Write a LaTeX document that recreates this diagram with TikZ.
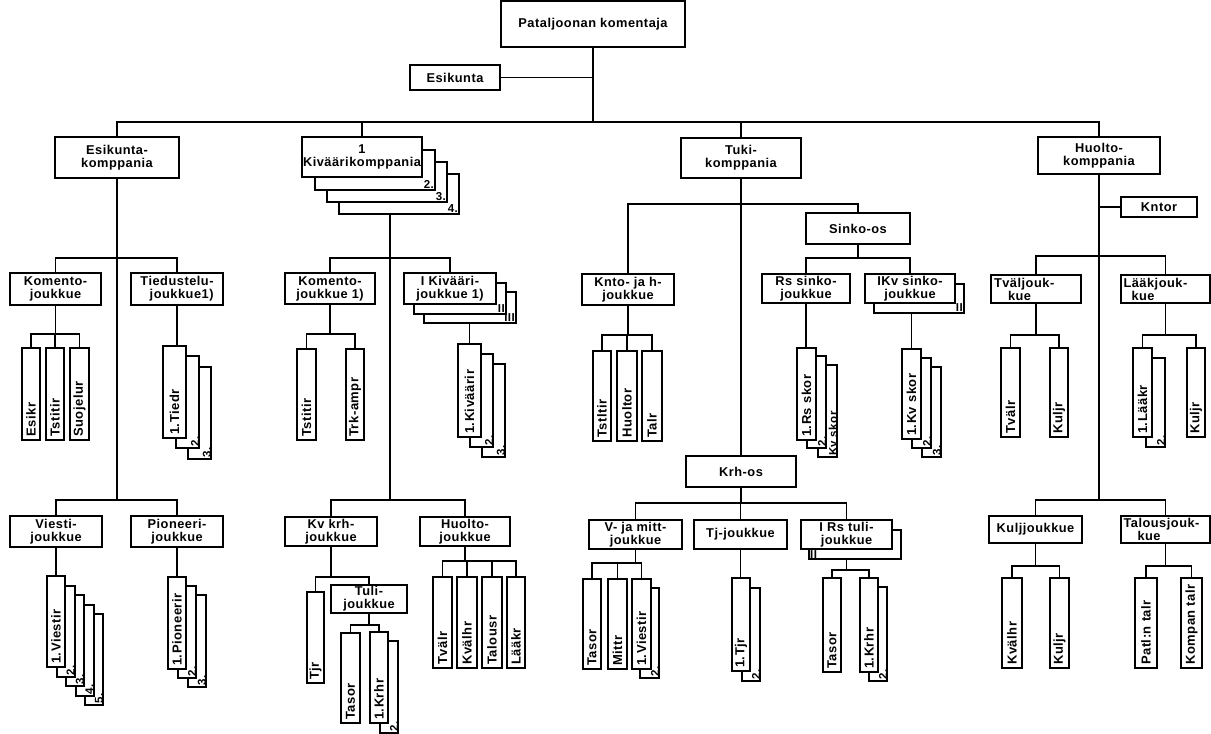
\documentclass[tikz,border=0pt]{standalone}
\usepackage{fontspec}
\setmainfont{Liberation Sans}[LetterSpace=4]
\tikzset{
 box/.style={draw, line width=2pt, fill=white, inner sep=1pt, align=center, font=\bfseries\fontsize{12.8}{13}\selectfont},
 vrect/.style={draw, line width=2pt, fill=white, inner sep=0pt},
 vtext/.style={rotate=90, anchor=west, inner sep=0pt, font=\bfseries\fontsize{13}{13}\selectfont},
 ctext/.style={rotate=90, anchor=west, inner sep=0pt, font=\bfseries\fontsize{11.5}{12}\selectfont},
 htext/.style={anchor=south east, inner sep=0pt, font=\bfseries\fontsize{11.5}{12}\selectfont},
 conn/.style={line width=1.2pt},
}
\newcommand\BX[7][]{\node[box,#1,minimum width={#5-#3},minimum height={#6-#4}] (#2) at ({(#3+#5)/2},{(#4+#6)/2}) {#7};}
\newcommand\VB[6]{\node[vrect,minimum width={#4-#2},minimum height={#5-#3}] (#1) at ({(#2+#4)/2},{(#3+#5)/2}) {};
\node[vtext] (#1t) at ([yshift=4pt]#1.south) {#6};}
\newcommand\VC[6]{\node[vrect,minimum width={#4-#2},minimum height={#5-#3}] (#1) at ({(#2+#4)/2},{(#3+#5)/2}) {};
\node[ctext] (#1t) at ([xshift=-5pt,yshift=2pt]#1.south east) {#6};}
\newcommand\HC[6]{\node[vrect,minimum width={#4-#2},minimum height={#5-#3}] (#1) at ({(#2+#4)/2},{(#3+#5)/2}) {};
\node[htext] (#1t) at ([xshift=-2pt,yshift=2pt]#1.south east) {#6};}
\newcommand\Tree[3]{\draw[conn] (#1.south) -- (#1.south |- 0,#2);
\foreach \kid in {#3}{\draw[conn] (\kid.north) |- (#1.south |- 0,#2);}}
\begin{document}
\begin{tikzpicture}[x=1pt,y=-1pt]
\fill[white] (0,0) rectangle (1211,734);
\useasboundingbox (0,0) rectangle (1211,734);
% top
\BX{pk}{501}{1}{685}{47}{Pataljoonan komentaja}
\BX{esk}{410}{65}{500}{90}{Esikunta}
\BX{ekp}{55}{137}{179}{178}{Esikunta-\\komppania}
\HC{kvc4}{339}{174}{459}{214}{4.}
\HC{kvc3}{327}{162}{447}{202}{3.}
\HC{kvc2}{315}{150}{435}{190}{2.}
\BX[inner sep=0pt]{kv1}{302}{137}{422}{177}{1\\Kiväärikomppania}
\BX{tuki}{681}{138}{801}{178}{Tuki-\\komppania}
\BX{hkp}{1038}{137}{1160}{174}{Huolto-\\komppania}
\BX{kntor}{1121}{197}{1197}{217}{Kntor}
% Esikuntakomppania
\BX{komj}{10}{273}{101}{305}{Komento-\\joukkue}
\BX[align=right]{tied}{131}{273}{223}{305}{Tiedustelu-\\joukkue1)}
\VB{esikr}{22}{348}{40}{440}{Esikr}
\VB{tst1}{46}{348}{64}{440}{Tstitir}
\VB{suoj}{70}{348}{89}{440}{Suojelur}
\VC{tdc3}{188}{367}{211}{459}{3.}
\VC{tdc2}{176}{356}{199}{448}{2.}
\VB{td1}{163}{346}{186}{438}{1.Tiedr}
\BX{vies}{10}{516}{102}{547}{Viesti-\\joukkue}
\BX{pion}{131}{516}{223}{547}{Pioneeri-\\joukkue}
\VC{vic5}{85}{614}{103}{705}{5.}
\VC{vic4}{75.5}{604.5}{93.5}{695.5}{4.}
\VC{vic3}{66}{595}{84}{686}{3.}
\VC{vic2}{56.5}{585.5}{74.5}{676.5}{2.}
\VB{vi1}{47}{576}{65}{667}{1.Viestir}
\VC{pic3}{188}{595}{206}{687}{3.}
\VC{pic2}{178}{586}{196}{678}{2.}
\VB{pi1}{168}{577}{186}{669}{1.Pioneerir}
% Kivaarikomppania
\BX{komj1}{285}{273}{375}{304}{Komento-\\joukkue 1)}
\HC{kjc3}{424}{292}{516}{323}{III}
\HC{kjc2}{414}{283}{506}{314}{II}
\BX{kivj}{404}{273}{496}{304}{I Kivääri-\\joukkue 1)}
\VB{tst2}{297}{349}{316}{440}{Tstitir}
\VB{trk}{346}{349}{364}{440}{Trk-ampr}
\VC{kic3}{482}{364}{505}{457}{3.}
\VC{kic2}{470}{354}{493}{447}{2.}
\VB{ki1}{458}{344}{481}{437}{1.Kiväärir}
\BX{kvkrh}{285}{517}{377}{546}{Kv krh-\\joukkue}
\BX{hj}{420}{517}{510}{546}{Huolto-\\joukkue}
\VB{tjr}{307}{592}{324}{683}{Tjr}
\BX{tulij}{331}{585}{407}{613}{Tuli-\\joukkue}
\VB{tas1}{341}{633}{360}{723}{Tasor}
\VC{krc2}{380}{641}{398}{733}{2.}
\VB{kr1}{370}{632}{388}{723}{1.Krhr}
\VB{tval1}{433}{577}{452}{668}{Tvälr}
\VB{kval1}{457}{577}{477}{668}{Kvälhr}
\VB{talo}{482}{577}{502}{668}{Talousr}
\VB{laak}{507}{577}{525}{668}{Lääkr}
% Tukikomppania
\BX{kntoj}{582}{274}{674}{305}{Knto- ja h-\\joukkue}
\BX{sinko}{806}{213}{910}{244}{Sinko-os}
\BX{rss}{762}{274}{850}{303}{Rs sinko-\\joukkue}
\HC{ikc2}{874}{284}{964}{313}{II}
\BX{ikvs}{865}{274}{955}{303}{IKv sinko-\\joukkue}
\VB{tst3}{593}{351}{611}{441}{Tstltir}
\VB{huol}{617}{351}{637}{441}{Huoltor}
\VB{talr}{642}{351}{662}{441}{Talr}
\VC{rsc3}{818}{365}{837}{457}{Kv skor}
\VC{rsc2}{807}{356}{826}{448}{2.}
\VB{rs1}{797}{348}{816}{440}{1.Rs skor}
\VC{kvsc3}{922}{367}{941}{457}{3.}
\VC{kvsc2}{912}{358}{931}{448}{2.}
\VB{kvs1}{902}{349}{921}{439}{1.Kv skor}
\BX{krhos}{686}{456}{796}{487}{Krh-os}
\BX{vjm}{589}{520}{682}{549}{V- ja mitt-\\joukkue}
\BX{tjj}{694}{520}{787}{549}{Tj-joukkue}
\node[vrect,minimum width=92,minimum height=29] (irc2) at (855,544.5) {};
\node[htext,anchor=south west] (irc2t) at ([xshift=2pt,yshift=1pt]irc2.south west) {II};
\BX{irs}{801}{520}{892}{549}{I Rs tuli-\\joukkue}
\VB{tas2}{583}{579}{601}{669}{Tasor}
\VB{mitt}{608}{579}{627}{669}{Mittr}
\VC{vmc2}{640}{588}{659}{678}{2.}
\VB{vm1}{632}{579}{651}{669}{1.Viestir}
\VC{tjc2}{742}{588}{760}{681}{2.}
\VB{tj1}{732}{578}{750}{671}{1.Tjr}
\VB{tas3}{823}{578}{841}{672}{Tasor}
\VC{krc3}{869}{587}{887}{681}{2.}
\VB{kr2}{860}{578}{878}{672}{1.Krhr}
% Huoltokomppania
\BX[text width=84pt,align=left]{tvj}{991}{275}{1081}{303}{Tväljouk-\\\hspace*{14pt}kue}
\BX[text width=84pt,align=left]{laj}{1121}{275}{1210}{303}{Lääkjouk-\\\hspace*{8pt}kue}
\VB{tval2}{1001}{348}{1020}{437}{Tvälr}
\VB{kul1}{1050}{348}{1068}{437}{Kuljr}
\VC{lac2}{1146}{358}{1165}{447}{2.}
\VB{la1}{1133}{348}{1152}{437}{1.Lääkr}
\VB{kul2}{1187}{348}{1205}{437}{Kuljr}
\BX{kuljj}{989}{516}{1082}{543}{Kuljjoukkue}
\BX[text width=84pt,align=left]{talj}{1121}{516}{1210}{543}{Talousjouk-\\\hspace*{14pt}kue}
\VB{kval2}{1002}{578}{1022}{668}{Kvälhr}
\VB{kul3}{1050}{578}{1069}{668}{Kuljr}
\VB{patl}{1135}{578}{1157}{668}{Patl:n talr}
\VB{komp}{1181}{578}{1202}{668}{Kompan talr}
% connectors top
\coordinate (bus0) at (593,122);
\draw[conn] (pk.south) -- (bus0);
\foreach \n in {ekp,kv1,tuki,hkp} {\draw[conn] (\n.north) |- (bus0);}
\draw[conn] (esk.east) -- (esk.east -| pk.south);
% Esikunta
\draw[conn] (ekp.south) -- (ekp.south |- 0,500);
\draw[conn] (komj.north) |- (ekp.south |- 0,258);
\draw[conn] (tied.north) |- (ekp.south |- 0,258);
\draw[conn] (vies.north) |- (ekp.south |- 0,500);
\draw[conn] (pion.north) |- (ekp.south |- 0,500);
\Tree{komj}{334}{esikr,tst1,suoj}
\draw[conn] (tied.south) -- (tied.south |- td1.north);
\draw[conn] (vies.south) -- (vies.south |- vi1.north);
\draw[conn] (pion.south) -- (pion.south |- pi1.north);
% Kivaari
\coordinate (kvj1) at (390,258);
\coordinate (kvj2) at (390,500);
\draw[conn] (kvc4.south -| kvj1) -- (kvj2);
\draw[conn] (komj1.north) |- (kvj1);
\draw[conn] (kivj.north) |- (kvj1);
\draw[conn] (kvkrh.north) |- (kvj2);
\draw[conn] (hj.north) |- (kvj2);
\Tree{komj1}{334}{tst2,trk}
\draw[conn] (kjc3.south -| ki1.north) -- (ki1.north);
\Tree{kvkrh}{577}{tjr,tulij}
\Tree{tulij}{625}{tas1,kr1}
\Tree{hj}{561}{tval1,kval1,talo,laak}
% Tuki
\draw[conn] (tuki.south) -- (krhos.north);
\draw[conn] (kntoj.north) |- (tuki.south |- 0,204);
\draw[conn] (sinko.north) |- (tuki.south |- 0,204);
\Tree{kntoj}{335}{tst3,huol,talr}
\Tree{sinko}{258}{rss,ikvs}
\draw[conn] (rss.south) -- (rss.south |- rs1.north);
\draw[conn] (ikc2.south -| kvs1.north) -- (kvs1.north);
\Tree{krhos}{503}{vjm,tjj,irs}
\Tree{vjm}{563}{tas2,mitt,vm1}
\draw[conn] (tjj.south) -- (tjj.south |- tj1.north);
\draw[conn] (irc2.south -| irs.south) -- (irs.south |- 0,570);
\draw[conn] (tas3.north) |- (irs.south |- 0,570);
\draw[conn] (kr2.north) |- (irs.south |- 0,570);
% Huolto
\draw[conn] (hkp.south) -- (hkp.south |- 0,500);
\draw[conn] (kntor.west) -- (kntor.west -| hkp.south);
\draw[conn] (tvj.north) |- (hkp.south |- 0,256);
\draw[conn] (laj.north) |- (hkp.south |- 0,256);
\draw[conn] (kuljj.north) |- (hkp.south |- 0,500);
\draw[conn] (talj.north) |- (hkp.south |- 0,500);
\Tree{tvj}{335}{tval2,kul1}
\Tree{laj}{335}{la1,kul2}
\Tree{kuljj}{566}{kval2,kul3}
\Tree{talj}{566}{patl,komp}
\end{tikzpicture}
\end{document}
